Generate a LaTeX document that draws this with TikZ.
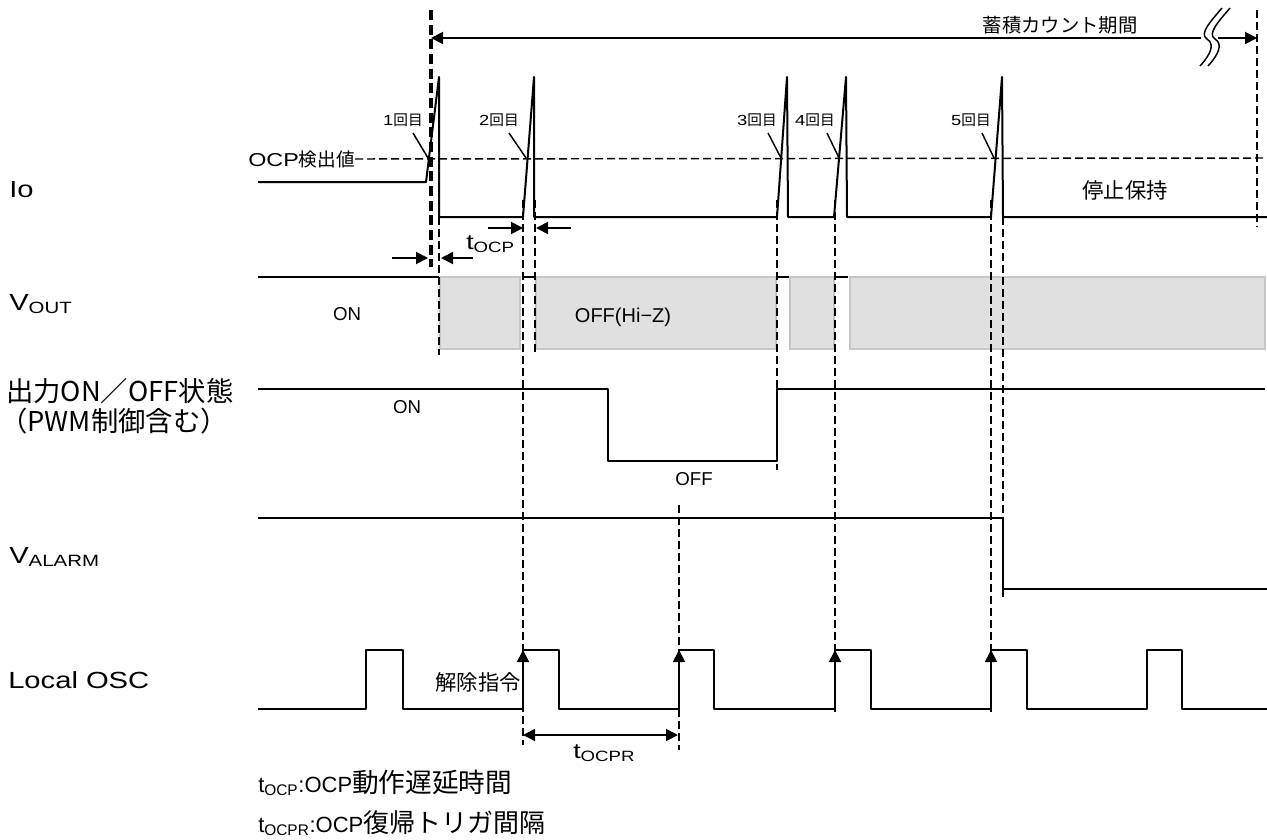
\documentclass[tikz,border=0pt]{standalone}
\usepackage{fontspec}
\setmainfont[FakeStretch=1.25]{Liberation Sans}
\newfontfamily\arialn{Liberation Sans}
\newfontfamily\jp{Noto Sans CJK JP}
\usetikzlibrary{arrows.meta}

\begin{document}
\begin{tikzpicture}[x=0.75pt, y=-0.75pt,
    sig/.style={line width=1.5pt, line join=round},
    guide/.style={line width=1.1pt, dash pattern=on 6pt off 3pt},
    mainguide/.style={line width=2.6pt, dash pattern=on 7.5pt off 3.5pt},
    meas/.style={line width=1.4pt, -{Triangle[length=9pt,width=9pt]}},
    measboth/.style={line width=1.4pt, {Triangle[length=9pt,width=9pt]}-{Triangle[length=9pt,width=9pt]}},
    pointer/.style={line width=1.1pt},
    brk/.style={line width=1.1pt},
    hiz/.style={fill=black!12, draw=black!22, line width=1pt},
    siglabel/.style={anchor=base west, inner sep=0pt, font=\fontsize{17.5}{20}\selectfont},
    jplabel/.style={anchor=base west, inner sep=0pt, font=\jp\fontsize{20.5}{23}\selectfont},
    nth/.style={inner sep=0pt, font=\fontsize{11}{12}\selectfont},
    lvl/.style={inner sep=0pt, font=\arialn\fontsize{14}{16}\selectfont},
    legend/.style={anchor=base west, inner sep=0pt, font=\arialn\fontsize{16.5}{19}\selectfont}
]
    \useasboundingbox (0,0) rectangle (1267,839);

    \node[siglabel] (io) at (9,197) {Io};
    \node[siglabel] (vout) at (9,310) {V\textsubscript{OUT}};
    \node[jplabel] (onoff) at (6,401) {出力ON／OFF状態};
    \node[jplabel] (pwm) at (0,431) {（PWM制御含む）};
    \node[siglabel] (valarm) at (9,563) {V\textsubscript{ALARM}};
    \node[siglabel] (osc) at (8,688) {Local OSC};

    \draw[hiz] (440,277) rectangle (520,349);
    \draw[hiz] (536,277) rectangle (776,349);
    \draw[hiz] (790,277) rectangle (834,349);
    \draw[hiz] (850,277) rectangle (1265,349);

    \draw[mainguide] (431,10) -- (431,267);
    \draw[guide] (1257,10) -- (1257,227);
    \draw[guide] (439,217) -- (439,355);
    \draw[guide] (523,200) -- (523,745);
    \draw[guide] (535,200) -- (535,355);
    \draw[guide] (777,200) -- (777,470);
    \draw[guide] (835,200) -- (835,715);
    \draw[guide] (991,200) -- (991,715);
    \draw[guide] (1003,205) -- (1003,600);
    \draw[guide] (679,505) -- (679,750);

    \node[inner sep=0pt, font=\jp\fontsize{14.5}{16}\selectfont] (period) at (1060,25) {蓄積カウント期間};
    \coordinate (p0) at (431,38);
    \coordinate (p1) at (1201,38);
    \coordinate (p2) at (1218,38);
    \coordinate (p3) at (1257,38);
    \draw[meas] (p1) -- (p0);
    \draw[meas] (p2) -- (p3);
    \draw[brk] (1222,8) .. controls (1210,22) and (1199,34) .. (1207,39) .. controls (1215,44) and (1211,54) .. (1200,66);
    \draw[brk] (1230,8) .. controls (1218,22) and (1207,34) .. (1215,39) .. controls (1223,44) and (1219,54) .. (1208,66);

    \node[anchor=west, inner sep=0pt, font=\fontsize{14}{16}\selectfont] (ocp) at (248,159) {OCP{\jp 検出値}};
    \coordinate (thr) at (1267,158);
    \draw[guide] (ocp.east) -- (thr);

    \draw[sig] (258,182) -- (426,182) -- (439,77) -- (439,217) -- (523,217) -- (534,77) -- (534,217)
        -- (777,217) -- (787,77) -- (788,217) -- (834,217) -- (846,77) -- (847,217)
        -- (991,217) -- (1002,77) -- (1003,217) -- (1267,217);

    \node[nth] (n1) at (403,120) {1{\jp 回目}};
    \node[nth] (n2) at (499,120) {2{\jp 回目}};
    \node[nth] (n3) at (757,120) {3{\jp 回目}};
    \node[nth] (n4) at (815,120) {4{\jp 回目}};
    \node[nth] (n5) at (971,120) {5{\jp 回目}};
    \coordinate (x1) at (428,158);
    \coordinate (x2) at (526,158);
    \coordinate (x3) at (781,158);
    \coordinate (x4) at (839,158);
    \coordinate (x5) at (994,158);
    \draw[pointer] (413,133) -- (x1);
    \draw[pointer] (509,133) -- (x2);
    \draw[pointer] (768,133) -- (x3);
    \draw[pointer] (827,133) -- (x4);
    \draw[pointer] (982,133) -- (x5);

    \node[inner sep=0pt, font=\jp\fontsize{16}{18}\selectfont] (hold) at (1125,190) {停止保持};

    \draw[meas] (488,228) -- (523,228);
    \draw[meas] (571,228) -- (536,228);
    \node[anchor=base west, inner sep=0pt, font=\fontsize{16}{18}\selectfont] (tocp) at (466,249) {t\textsubscript{OCP}};
    \draw[meas] (392,258) -- (428,258);
    \draw[meas] (473,258) -- (441,258);

    \draw[sig] (258,277) -- (439,277);
    \draw[sig] (523,277) -- (535,277);
    \draw[sig] (777,277) -- (789,277);
    \draw[sig] (836,277) -- (848,277);
    \node[lvl] (on1) at (347,314) {ON};
    \node[lvl, font=\arialn\fontsize{15}{17}\selectfont] (off1) at (623,317) {OFF(Hi−Z)};

    \draw[sig] (258,389) -- (608,389) -- (608,461) -- (777,461) -- (777,389) -- (1265,389);
    \node[lvl] (on2) at (407,407) {ON};
    \node[lvl] (off2) at (694,479) {OFF};

    \draw[sig] (258,518) -- (1003,518) -- (1003,589) -- (1267,589);

    \draw[sig] (258,709) -- (366,709) -- (366,650) -- (403,650) -- (403,709)
        -- (523,709) -- (523,650) -- (559,650) -- (559,709)
        -- (679,709) -- (679,650) -- (714,650) -- (714,709)
        -- (835,709) -- (835,650) -- (871,650) -- (871,709)
        -- (991,709) -- (991,650) -- (1027,650) -- (1027,709)
        -- (1147,709) -- (1147,650) -- (1182,650) -- (1182,709) -- (1267,709);
    \draw[meas] (523,709) -- (523,650);
    \draw[meas] (679,709) -- (679,650);
    \draw[meas] (835,709) -- (835,650);
    \draw[meas] (991,709) -- (991,650);
    \node[anchor=east, inner sep=0pt, font=\jp\fontsize{16}{18}\selectfont] (release) at (521,682) {解除指令};

    \draw[measboth] (523,735) -- (678,735);
    \node[anchor=base west, inner sep=0pt, font=\fontsize{16}{18}\selectfont] (tocpr) at (573,758) {t\textsubscript{OCPR}};

    \node[legend] (leg1) at (258,792) {t\textsubscript{OCP}:OCP{\jp\fontsize{20}{22}\selectfont 動作遅延時間}};
    \node[legend] (leg2) at (258,832) {t\textsubscript{OCPR}:OCP{\jp\fontsize{19.5}{22}\selectfont 復帰トリガ間隔}};
\end{tikzpicture}
\end{document}
